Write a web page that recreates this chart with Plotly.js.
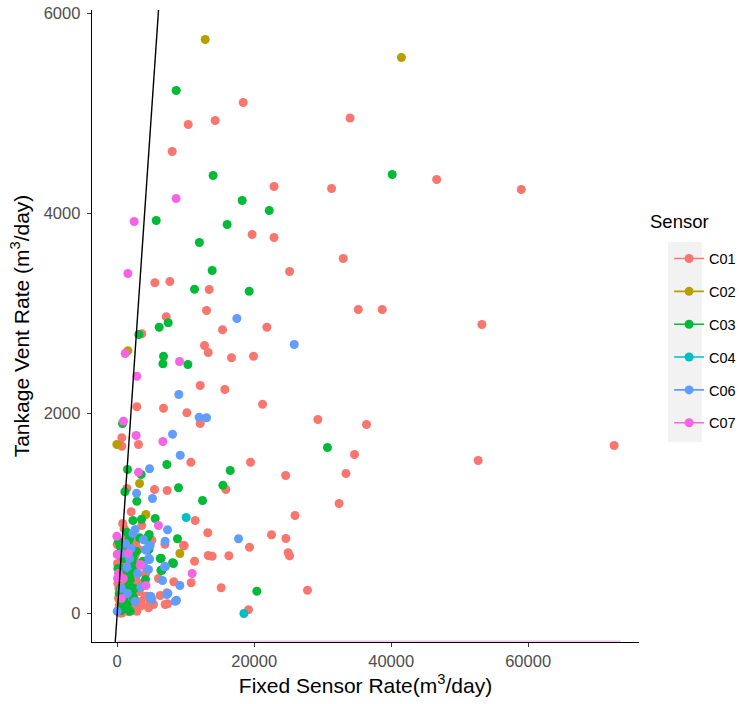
<!DOCTYPE html>
<html>
<head>
<meta charset="utf-8">
<script src="https://cdn.plot.ly/plotly-3.0.1.min.js"></script>
<style>html,body{margin:0;padding:0;background:#fff;}#chart{width:741px;height:704px;}</style>
</head>
<body>
<div id="chart"></div>
<script>
// ---- data ----
const sensors = ["C01", "C02", "C03", "C04", "C06", "C07"];
const colors = ["#F8766D", "#B79F00", "#00BA38", "#00BFC4", "#619CFF", "#F564E3"];

const c01x = [18400,10370,14300,8030,22900,19700,22900,34000,31300,46650,59000,33000,25170,35200,38700,53250,
  29300,36400,34650,72560,52700,24600,33400,32400,25960,24630,25170,27780,
  5500,7690,13430,13040,7150,15380,21850,3600,12750,13290,16690,19900,
  12120,15720,21220,2870,6760,10170,12120,680,3110,680,
  10760,19470,15870,5450,7300,1410,2040,11390,13230,22530,19320,6960,9780,
  11290,13290,13870,16300,24960,6030,8260,10800,15180,6280,7350,4820,19170,4130,3110,5060,
  3590,1020,4820,0,2380,340,2630,4330,7250,1900,4570,7000,3360,680,2870,9680,4090,5300,4570,
  150,300,500,250,700,900,1100,1300,1500,1700,2000,2200,2500,1800,1200,600,400,900,2800,3200,
  1000,1600,2300,3000,200,1400,800,2600,3800,3500,500,100,1900,2700,1100,300,
  200,600,1000,1400,1800,2100,400,800,1200,1600,2400,50];
const c01y = [5110,4890,4930,4620,4270,3790,3760,4955,4250,4340,4240,3550,3420,3040,3040,2890,
  1940,1890,1590,1680,1530,1380,1400,1100,980,750,576,233,
  3307,3320,3240,3030,2967,2837,2863,2797,2680,2610,2557,2573,
  2280,2240,2093,2067,2053,2007,1900,1757,1690,1673,
  1513,1513,1240,1240,1230,1250,1017,930,807,787,663,693,677,
  523,580,573,577,607,350,317,307,257,180,97,123,37,397,640,733,
  880,847,740,690,430,373,373,173,207,207,73,90,73,5,23,683,173,90,57,
  30,80,150,250,300,120,60,200,350,100,280,500,150,620,480,550,450,650,330,220,
  400,20,60,500,600,760,900,580,300,120,5,300,430,700,250,180,
  150,400,550,300,200,120,80,220,120,450,350,500];

const c02x = [12850,41500,1560,-50,3260,4190,9150,1170,500];
const c02y = [5740,5560,2627,1690,1300,990,600,263,100];

const c03x = [8614,14000,18250,22200,5700,16050,12000,40150,30700,
  13870,11290,19270,6130,7450,3160,6760,6670,10320,780,
  7250,1510,3500,16500,15430,8950,1120,2870,12460,5550,2290,3550,8800,6420,8220,20390,4130,3750,4630,2290,4480,4230,1750,
  2000,1410,3260,190,1650,540,440,2140,6280,6520,1170,1900,2380,680,1900,4670,8080,6380,
  300,800,1300,2500,600,1000,2100,2800,400,1500,
  100,500,900,1300,1700,2200,2600];
const c03y = [5230,4380,4130,4030,3930,3890,3710,4390,1660,
  3430,3243,3223,2863,2907,2790,2573,2497,2490,1900,
  1490,1440,1390,1430,1283,1257,1217,1123,1130,950,930,943,747,553,500,223,340,523,640,557,767,733,740,
  773,813,757,723,680,680,673,540,550,430,367,333,157,107,23,790,507,433,
  200,450,600,250,30,150,400,620,350,90,
  450,250,550,50,280,180,480];

const c04x = [10070,18500];
const c04y = [960,0];

const c06x = [25850,17470,9000,11970,13040,8080,9200,4720,2820,5150,7350,17710,7050,6610,9150,7400,8660,4920,
  3890,4630,3840,4230,2290,7000,4820,4720,1410,4570,3450,4820,0,2630,6910,7250,8470,5060,4180,
  1800,600,2600,1200,3000,700,1500,2000];
const c06y = [2690,2950,2190,1963,1957,1793,1583,1447,1203,1150,837,747,470,330,280,200,133,170,
  480,553,737,633,800,723,680,540,463,440,263,173,23,840,467,190,123,140,640,
  550,250,120,700,400,600,200,650];

const c07x = [8600,2480,1560,1170,9100,2870,920,2770,6670,3110,6030,10950,4190,3400,-50,0,3360,200,900,1600,50,600];
const c07y = [4150,3920,3400,2600,2520,2373,1923,1780,1720,1413,880,400,280,490,773,590,483,400,350,600,350,150];

// reference line y = x and the faint line along the bottom
const refLine = [-285, 6035];
const baseLineX = [0, 73500];
const baseLineY = [-276, -276];

const seriesX = [c01x, c02x, c03x, c04x, c06x, c07x];
const seriesY = [c01y, c02y, c03y, c04y, c06y, c07y];

const traces = [];
sensors.forEach((s, i) => {
  traces.push({
    type: "scatter", mode: "markers", x: seriesX[i], y: seriesY[i],
    marker: {color: colors[i], size: 9, line: {width: 0}},
    showlegend: false, hoverinfo: "x+y", name: s
  });
});
traces.push({type: "scatter", mode: "lines", x: baseLineX, y: baseLineY,
  line: {color: "rgba(220,130,210,0.7)", width: 1}, showlegend: false, hoverinfo: "skip"});
traces.push({type: "scatter", mode: "lines", x: refLine, y: refLine,
  line: {color: "#000000", width: 1.4}, showlegend: false, hoverinfo: "skip"});
// legend entries
sensors.forEach((s, i) => {
  traces.push({
    type: "scatter", mode: "lines+markers", x: [null], y: [null], name: s,
    legendgroup: s, showlegend: true,
    marker: {color: colors[i], size: 9}, line: {color: colors[i], width: 1.6}
  });
});

const layout = {
  width: 741, height: 704,
  margin: {l: 92, r: 102, t: 10, b: 62, autoexpand: false},
  paper_bgcolor: "#ffffff", plot_bgcolor: "#ffffff",
  font: {family: "Liberation Sans, Arial, sans-serif", color: "#000"},
  xaxis: {
    range: [-3680, 76190], showgrid: false, zeroline: false,
    showline: true, linecolor: "#000", linewidth: 1.3,
    ticks: "outside", ticklen: 4, tickcolor: "#333", tickwidth: 1.1,
    tickvals: [0, 20000, 40000, 60000], ticktext: ["0", "20000", "40000", "60000"],
    tickfont: {size: 16.5, color: "#4D4D4D"},
    title: {text: "Fixed Sensor Rate(m<sup>3</sup>/day)", font: {size: 21, color: "#000"}, standoff: 9},
    automargin: false
  },
  yaxis: {
    range: [-285, 6035], showgrid: false, zeroline: false,
    showline: true, linecolor: "#000", linewidth: 1.3,
    ticks: "outside", ticklen: 4, tickcolor: "#333", tickwidth: 1.1,
    ticklabelstandoff: 3,
    tickvals: [0, 2000, 4000, 6000], ticktext: ["0", "2000", "4000", "6000"],
    tickfont: {size: 16.5, color: "#4D4D4D"},
    title: {text: "Tankage Vent Rate (m<sup>3</sup>/day)", font: {size: 21, color: "#000"}, standoff: 8},
    automargin: false
  },
  legend: {
    x: 1.055, xanchor: "left", y: 0.632, yanchor: "top",
    font: {size: 14.5, color: "#000"}, tracegroupgap: 11,
    bgcolor: "rgba(0,0,0,0)", borderwidth: 0
  },
  shapes: [{
    type: "rect", xref: "paper", yref: "paper", layer: "below",
    x0: 1.053, x1: 1.115, y0: 0.316, y1: 0.633,
    fillcolor: "#F2F2F2", line: {width: 0}
  }],
  annotations: [{
    text: "Sensor", xref: "paper", yref: "paper", x: 1.0165, y: 0.6646,
    xanchor: "left", yanchor: "middle", showarrow: false,
    font: {size: 18.5, color: "#000"}
  }]
};

Plotly.newPlot("chart", traces, layout, {displayModeBar: false, staticPlot: true});
</script>
</body>
</html>
